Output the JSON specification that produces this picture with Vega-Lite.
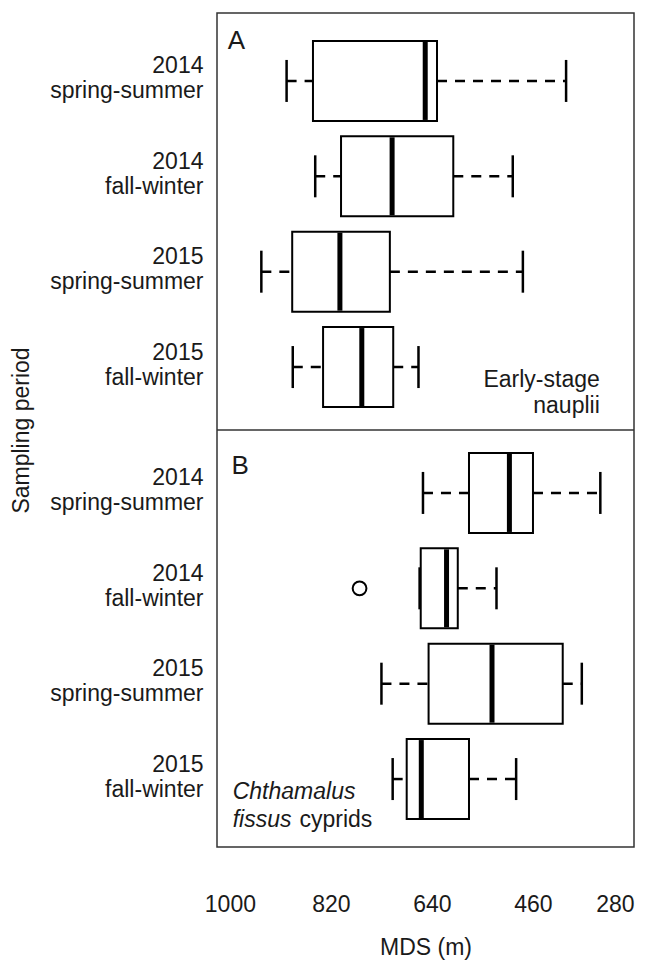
{
  "$schema": "https://vega.github.io/schema/vega-lite/v6.json",
  "width": 417,
  "height": 834,
  "autosize": "none",
  "padding": {"left": 217, "top": 13, "right": 22, "bottom": 116},
  "background": "white",
  "config": {
    "font": "Liberation Sans",
    "view": {"stroke": "#333333", "strokeWidth": 1.5},
    "axis": {"grid": false, "domain": false, "ticks": false, "labelColor": "#1a1a1a", "titleColor": "#1a1a1a", "labelFontSize": 23, "titleFontSize": 23, "titleFontWeight": "normal"}
  },
  "data": {
    "values": [
      {"period": "2014 spring-summer", "panel": "A", "slot": 1, "hi": 899, "q3": 852, "median": 652, "q1": 631, "lo": 401},
      {"period": "2014 fall-winter", "panel": "A", "slot": 2, "hi": 848, "q3": 802, "median": 711, "q1": 602, "lo": 496},
      {"period": "2015 spring-summer", "panel": "A", "slot": 3, "hi": 944, "q3": 889, "median": 804, "q1": 715, "lo": 478},
      {"period": "2015 fall-winter", "panel": "A", "slot": 4, "hi": 888, "q3": 834, "median": 765, "q1": 709, "lo": 664},
      {"period": "2014 spring-summer", "panel": "B", "slot": 5.32, "hi": 656, "q3": 574, "median": 502, "q1": 460, "lo": 340},
      {"period": "2014 fall-winter", "panel": "B", "slot": 6.32, "hi": 662, "q3": 660, "median": 614, "q1": 594, "lo": 525},
      {"period": "2015 spring-summer", "panel": "B", "slot": 7.32, "hi": 730, "q3": 646, "median": 533, "q1": 407, "lo": 373},
      {"period": "2015 fall-winter", "panel": "B", "slot": 8.32, "hi": 710, "q3": 685, "median": 659, "q1": 574, "lo": 490}
    ]
  },
  "encoding": {
    "y": {
      "field": "slot",
      "type": "quantitative",
      "scale": {"domain": [0.34, 8.98], "reverse": true, "nice": false, "zero": false},
      "axis": {
        "values": [1, 2, 3, 4, 5.32, 6.32, 7.32, 8.32],
        "labelExpr": "[(datum.value < 4.5 ? datum.value : datum.value - 4.32) < 2.5 ? '2014' : '2015', round(datum.value < 4.5 ? datum.value : datum.value - 4.32) % 2 == 1 ? 'spring-summer' : 'fall-winter']",
        "labelAlign": "right",
        "labelBaseline": "middle",
        "labelLineHeight": 25,
        "labelOffset": -15,
        "labelPadding": 14,
        "title": "Sampling period",
        "titlePadding": 16
      }
    }
  },
  "layer": [
    {
      "mark": {"type": "rule", "strokeDash": [10, 8], "strokeWidth": 2.5, "color": "black"},
      "encoding": {
        "x": {
          "field": "hi",
          "type": "quantitative",
          "scale": {"domain": [280, 1023], "reverse": true, "nice": false, "zero": false},
          "axis": {"values": [1000, 820, 640, 460, 280], "format": "d", "labelPadding": 46, "titlePadding": 20, "title": "MDS (m)"}
        },
        "x2": {"field": "q3"}
      }
    },
    {
      "mark": {"type": "rule", "strokeDash": [10, 8], "strokeWidth": 2.5, "color": "black"},
      "encoding": {
        "x": {"field": "q1", "type": "quantitative", "scale": {"domain": [280, 1023], "reverse": true, "nice": false, "zero": false}, "title": "MDS (m)"},
        "x2": {"field": "lo"}
      }
    },
    {
      "mark": {"type": "tick", "orient": "vertical", "size": 42, "thickness": 2.5, "color": "black", "opacity": 1},
      "encoding": {
        "x": {"field": "hi", "type": "quantitative", "scale": {"domain": [280, 1023], "reverse": true, "nice": false, "zero": false}, "title": "MDS (m)"}
      }
    },
    {
      "mark": {"type": "tick", "orient": "vertical", "size": 42, "thickness": 2.5, "color": "black", "opacity": 1},
      "encoding": {
        "x": {"field": "lo", "type": "quantitative", "scale": {"domain": [280, 1023], "reverse": true, "nice": false, "zero": false}, "title": "MDS (m)"}
      }
    },
    {
      "mark": {"type": "bar", "size": 80, "fill": "white", "stroke": "black", "strokeWidth": 2, "opacity": 1},
      "encoding": {
        "x": {"field": "q3", "type": "quantitative", "scale": {"domain": [280, 1023], "reverse": true, "nice": false, "zero": false}, "title": "MDS (m)"},
        "x2": {"field": "q1"}
      }
    },
    {
      "mark": {"type": "tick", "orient": "vertical", "size": 78, "thickness": 5, "color": "black", "opacity": 1},
      "encoding": {
        "x": {"field": "median", "type": "quantitative", "scale": {"domain": [280, 1023], "reverse": true, "nice": false, "zero": false}, "title": "MDS (m)"}
      }
    },
    {
      "data": {"values": [{"period": "2014 fall-winter", "panel": "B", "slot": 6.32, "outlier": 769}]},
      "mark": {"type": "point", "shape": "circle", "size": 190, "filled": false, "stroke": "black", "strokeWidth": 2, "opacity": 1},
      "encoding": {
        "x": {"field": "outlier", "type": "quantitative", "scale": {"domain": [280, 1023], "reverse": true, "nice": false, "zero": false}, "title": "MDS (m)"}
      }
    },
    {
      "data": {"values": [{"boundary": 4.66}]},
      "mark": {"type": "rule", "color": "#333333", "strokeWidth": 1.5, "opacity": 1},
      "encoding": {
        "y": {"field": "boundary", "type": "quantitative"},
        "x": {"datum": 1023, "type": "quantitative"},
        "x2": {"datum": 280}
      }
    },
    {
      "data": {"values": [{"t": "A", "x": 1004, "slot": 0.58}, {"t": "B", "x": 997, "slot": 5.04}]},
      "mark": {"type": "text", "align": "left", "baseline": "middle", "fontSize": 26, "color": "#1a1a1a"},
      "encoding": {
        "x": {"field": "x", "type": "quantitative", "scale": {"domain": [280, 1023], "reverse": true, "nice": false, "zero": false}, "title": "MDS (m)"},
        "text": {"field": "t"}
      }
    },
    {
      "data": {"values": [{"t": "Early-stage", "x": 341, "slot": 4.214}, {"t": "nauplii", "x": 341, "slot": 4.484}]},
      "mark": {"type": "text", "align": "right", "baseline": "alphabetic", "fontSize": 23, "color": "#1a1a1a"},
      "encoding": {
        "x": {"field": "x", "type": "quantitative", "scale": {"domain": [280, 1023], "reverse": true, "nice": false, "zero": false}, "title": "MDS (m)"},
        "text": {"field": "t"}
      }
    },
    {
      "data": {"values": [{"t": "Chthamalus", "x": 995, "slot": 8.527}, {"t": "fissus", "x": 995, "slot": 8.827}]},
      "mark": {"type": "text", "align": "left", "baseline": "alphabetic", "fontSize": 23, "fontStyle": "italic", "color": "#1a1a1a"},
      "encoding": {
        "x": {"field": "x", "type": "quantitative", "scale": {"domain": [280, 1023], "reverse": true, "nice": false, "zero": false}, "title": "MDS (m)"},
        "text": {"field": "t"}
      }
    },
    {
      "data": {"values": [{"t": "cyprids", "x": 876, "slot": 8.827}]},
      "mark": {"type": "text", "align": "left", "baseline": "alphabetic", "fontSize": 23, "color": "#1a1a1a"},
      "encoding": {
        "x": {"field": "x", "type": "quantitative", "scale": {"domain": [280, 1023], "reverse": true, "nice": false, "zero": false}, "title": "MDS (m)"},
        "text": {"field": "t"}
      }
    }
  ]
}
